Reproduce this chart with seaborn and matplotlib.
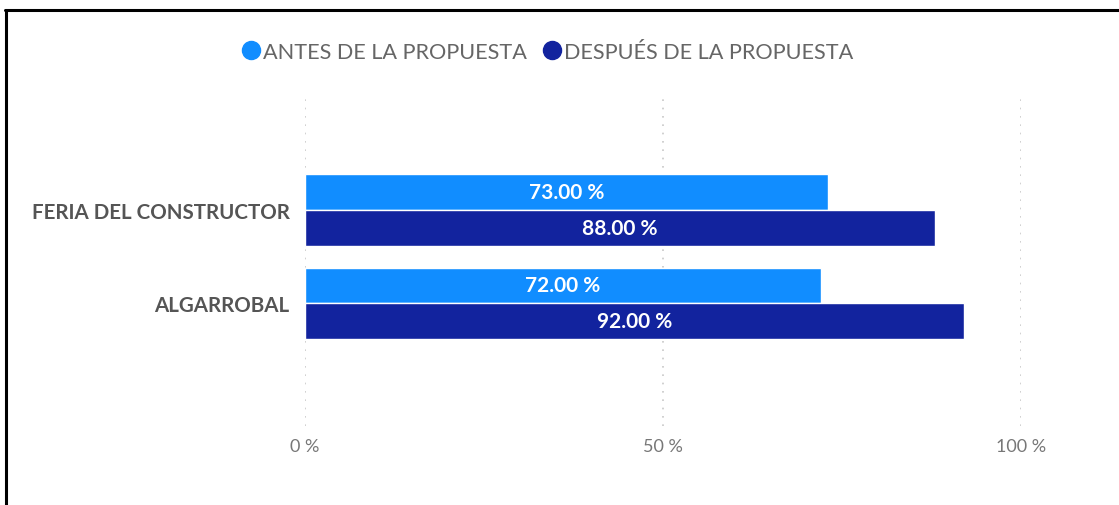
import pandas as pd
import matplotlib.pyplot as plt
import seaborn as sns
from matplotlib.lines import Line2D

# data
categorias = ["FERIA DEL CONSTRUCTOR", "ALGARROBAL"]
antes = [73.00, 72.00]
despues = [88.00, 92.00]
series = ["ANTES DE LA PROPUESTA", "DESPUÉS DE LA PROPUESTA"]
ticks = [0, 50, 100]
tick_labels = ["0 %", "50 %", "100 %"]

colores = ["#118DFF", "#12239E"]

df = pd.DataFrame({
    "categoria": categorias * 2,
    "serie": [series[0]] * len(antes) + [series[1]] * len(despues),
    "valor": antes + despues,
})

sns.set_style("white")
plt.rcParams["font.family"] = ["Lato", "DejaVu Sans"]

fig = plt.figure(figsize=(11.19, 5.06), dpi=100)
W, H = 1119, 506
ax = fig.add_axes([305 / W, 1 - 427 / H, (1021 - 305) / W, (427 - 97) / H])

sns.barplot(data=df, y="categoria", x="valor", hue="serie", orient="h",
            palette=colores, width=0.765, saturation=1, ax=ax, legend=False)

ax.set_xlim(0, 100)
ax.set_ylim(2.32, -1.226)
ax.set_xlabel("")
ax.set_ylabel("")

# grid punteada
ax.set_xticks(ticks)
ax.set_xticklabels(tick_labels, color="#777777", fontsize=13)
ax.xaxis.grid(True, color="#C8C8C8", linestyle=(0, (1, 4)), linewidth=1.2)
ax.yaxis.grid(False)
ax.tick_params(axis="both", length=0)
ax.tick_params(axis="x", pad=9)
ax.tick_params(axis="y", pad=11)
for lab in ax.get_yticklabels():
    lab.set_fontweight("bold")
    lab.set_fontsize(14.8)
    lab.set_color("#555555")
for s in ax.spines.values():
    s.set_visible(False)

# etiquetas de las barras
for cont in ax.containers:
    for bar in cont:
        v = bar.get_width()
        ax.text(v / 2, bar.get_y() + bar.get_height() / 2, f"{v:.2f} %",
                ha="center", va="center", color="white", fontsize=15,
                fontweight="bold")

# leyenda
handles = [Line2D([0], [0], marker="o", linestyle="", markersize=13,
                  markerfacecolor=c, markeredgecolor=c) for c in colores]
fig.legend(handles, series, loc="center", bbox_to_anchor=(547 / W, 1 - 53 / H),
           ncol=2, frameon=False, fontsize=15.6, labelcolor="#666666",
           handletextpad=0.1, columnspacing=0.7, handlelength=0.9)

# marco
fig.add_artist(Line2D([6 / W, 6 / W], [0, 1 - 11 / H], color="black",
                      linewidth=2.2, transform=fig.transFigure))
fig.add_artist(Line2D([5 / W, 1], [1 - 11 / H, 1 - 11 / H], color="black",
                      linewidth=2.2, transform=fig.transFigure))

fig.savefig("out.png", dpi=100, facecolor="white")
